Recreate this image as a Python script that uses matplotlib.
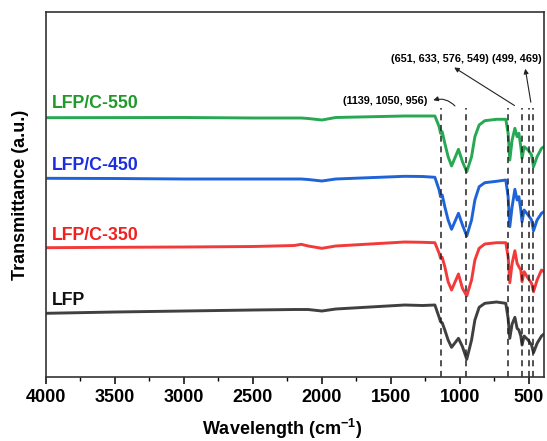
import matplotlib
matplotlib.use('Agg')
import matplotlib.pyplot as plt
from matplotlib.ticker import MultipleLocator

plt.rcParams['font.family'] = ['Liberation Sans', 'DejaVu Sans']
plt.rcParams['font.weight'] = 'bold'
plt.rcParams['mathtext.fontset'] = 'custom'
plt.rcParams['mathtext.bf'] = 'Liberation Sans:bold'
plt.rcParams['mathtext.rm'] = 'Liberation Sans:bold'
plt.rcParams['mathtext.default'] = 'bf'

# wavenumbers (cm-1)
wn = [4000, 3500, 3000, 2500, 2200, 2150, 2100, 2000, 1900, 1400, 1270,
      1181, 1150, 1140, 1128, 1109, 1085, 1060, 1010, 981, 950, 915, 891,
      860, 819, 734, 667, 650, 638, 621, 601, 585, 572, 558, 549, 534, 505,
      480, 466, 440, 408, 390]

# transmittance (a.u., stacked)
lfp_c550 = [262.3, 262.4, 262.5, 262, 262, 262, 261.5, 260, 262.5, 264, 264,
            264, 253.3, 246.7, 248.3, 236.7, 223.3, 214, 230.7, 218.3, 208.3,
            223.3, 243.3, 255, 259.3, 260.7, 260.7, 246.7, 220, 240, 251.7,
            243.3, 246.7, 233.3, 221.7, 233.3, 230, 225, 213.3, 223.3, 231.7, 233.3]
lfp_c450 = [201.7, 201.5, 201, 201, 201, 201, 200.5, 199, 201, 203.7, 203.5,
            202.7, 190, 183.3, 185, 173.3, 160, 150.7, 166.7, 155, 144, 160,
            180, 193.3, 197.3, 198.7, 200, 183.3, 153.3, 173.3, 190.7, 180,
            183.3, 170, 158.3, 170, 165, 160, 149.3, 160, 166.7, 168.3]
lfp_c350 = [132.3, 132.7, 133, 133.5, 134.5, 135.7, 134, 131.7, 134, 138, 137.7,
            137.3, 126.7, 121.7, 122.7, 113.3, 98.3, 90, 106, 91.7, 84, 100,
            120, 131.7, 136, 137.3, 137.3, 123.3, 97.3, 116.7, 129.3, 116.7,
            113.3, 110, 98.3, 108.3, 101.7, 96.7, 88.3, 100, 110, 108.3]
lfp = [66.7, 68, 69, 70, 70.5, 70.5, 70.5, 69, 71, 75, 74.5,
       75, 62.7, 58.3, 57.3, 50, 40, 32.7, 41.7, 33.3, 20.7, 40,
       60, 72.7, 76.7, 78, 76.7, 61.7, 41.7, 56, 62.7, 51.7,
       50, 44, 35, 44, 40, 35, 27.3, 36.7, 44, 46]

names = ['LFP/C-550', 'LFP/C-450', 'LFP/C-350', 'LFP']
colors = ['#27a853', '#1f63d9', '#f23a3a', '#404040']
label_colors = ['#1f9a2a', '#1a2ee0', '#f02020', '#111111']
label_y = [276, 215, 145, 80]
series = [lfp_c550, lfp_c450, lfp_c350, lfp]

peaks = [1139, 956, 651, 549, 499, 469]

fig = plt.figure(figsize=(5.47, 4.41), dpi=100)
ax = fig.add_axes([0.0841, 0.1451, 0.9104, 0.8277])

for s, c in zip(series, colors):
    ax.plot(wn, s, color=c, lw=2.1, solid_joinstyle='round')

for name, y, c in zip(names, label_y, label_colors):
    ax.text(3955, y, name, color=c, fontsize=12.8, fontweight='bold',
            ha='left', va='center')

ax.vlines(peaks, 3, 272, colors='#222222', linestyles=(0, (4, 3)), lw=1.1)

ax.text(1232, 279, '(1139, 1050, 956)', fontsize=7.8, ha='right', va='center')
ax.annotate('', xy=(1212, 279), xytext=(1022, 272),
            arrowprops=dict(arrowstyle='-|>', color='#222222', lw=0.8,
                            mutation_scale=7,
                            connectionstyle='arc3,rad=0.35'))
ax.text(790, 321, '(651, 633, 576, 549)', fontsize=7.8, ha='right', va='center')
ax.text(410, 321, '(499, 469)', fontsize=7.8, ha='right', va='center')
ax.annotate('', xy=(1058, 314), xytext=(587, 273),
            arrowprops=dict(arrowstyle='-|>', color='#222222', lw=0.8,
                            mutation_scale=7))
ax.annotate('', xy=(529, 314), xytext=(482, 275),
            arrowprops=dict(arrowstyle='-|>', color='#222222', lw=0.8,
                            mutation_scale=7))

ax.set_xlim(4000, 390)
ax.set_ylim(3, 368)
ax.xaxis.set_major_locator(MultipleLocator(500))
ax.xaxis.set_minor_locator(MultipleLocator(250))
ax.tick_params(axis='x', which='major', direction='out', length=5, width=1.1,
               labelsize=13, top=False)
ax.tick_params(axis='x', which='minor', direction='out', length=3, width=1.0, top=False)
ax.set_yticks([])
for sp in ax.spines.values():
    sp.set_linewidth(1.2)
    sp.set_color('#333333')

ax.set_xlabel('Wavelength (cm$^{-1}$)', fontsize=13, fontweight='bold')
ax.xaxis.set_label_coords(0.474, -0.11)
ax.set_ylabel('Transmittance (a.u.)', fontsize=13, fontweight='bold', labelpad=12)

fig.savefig('out.png', dpi=100)
